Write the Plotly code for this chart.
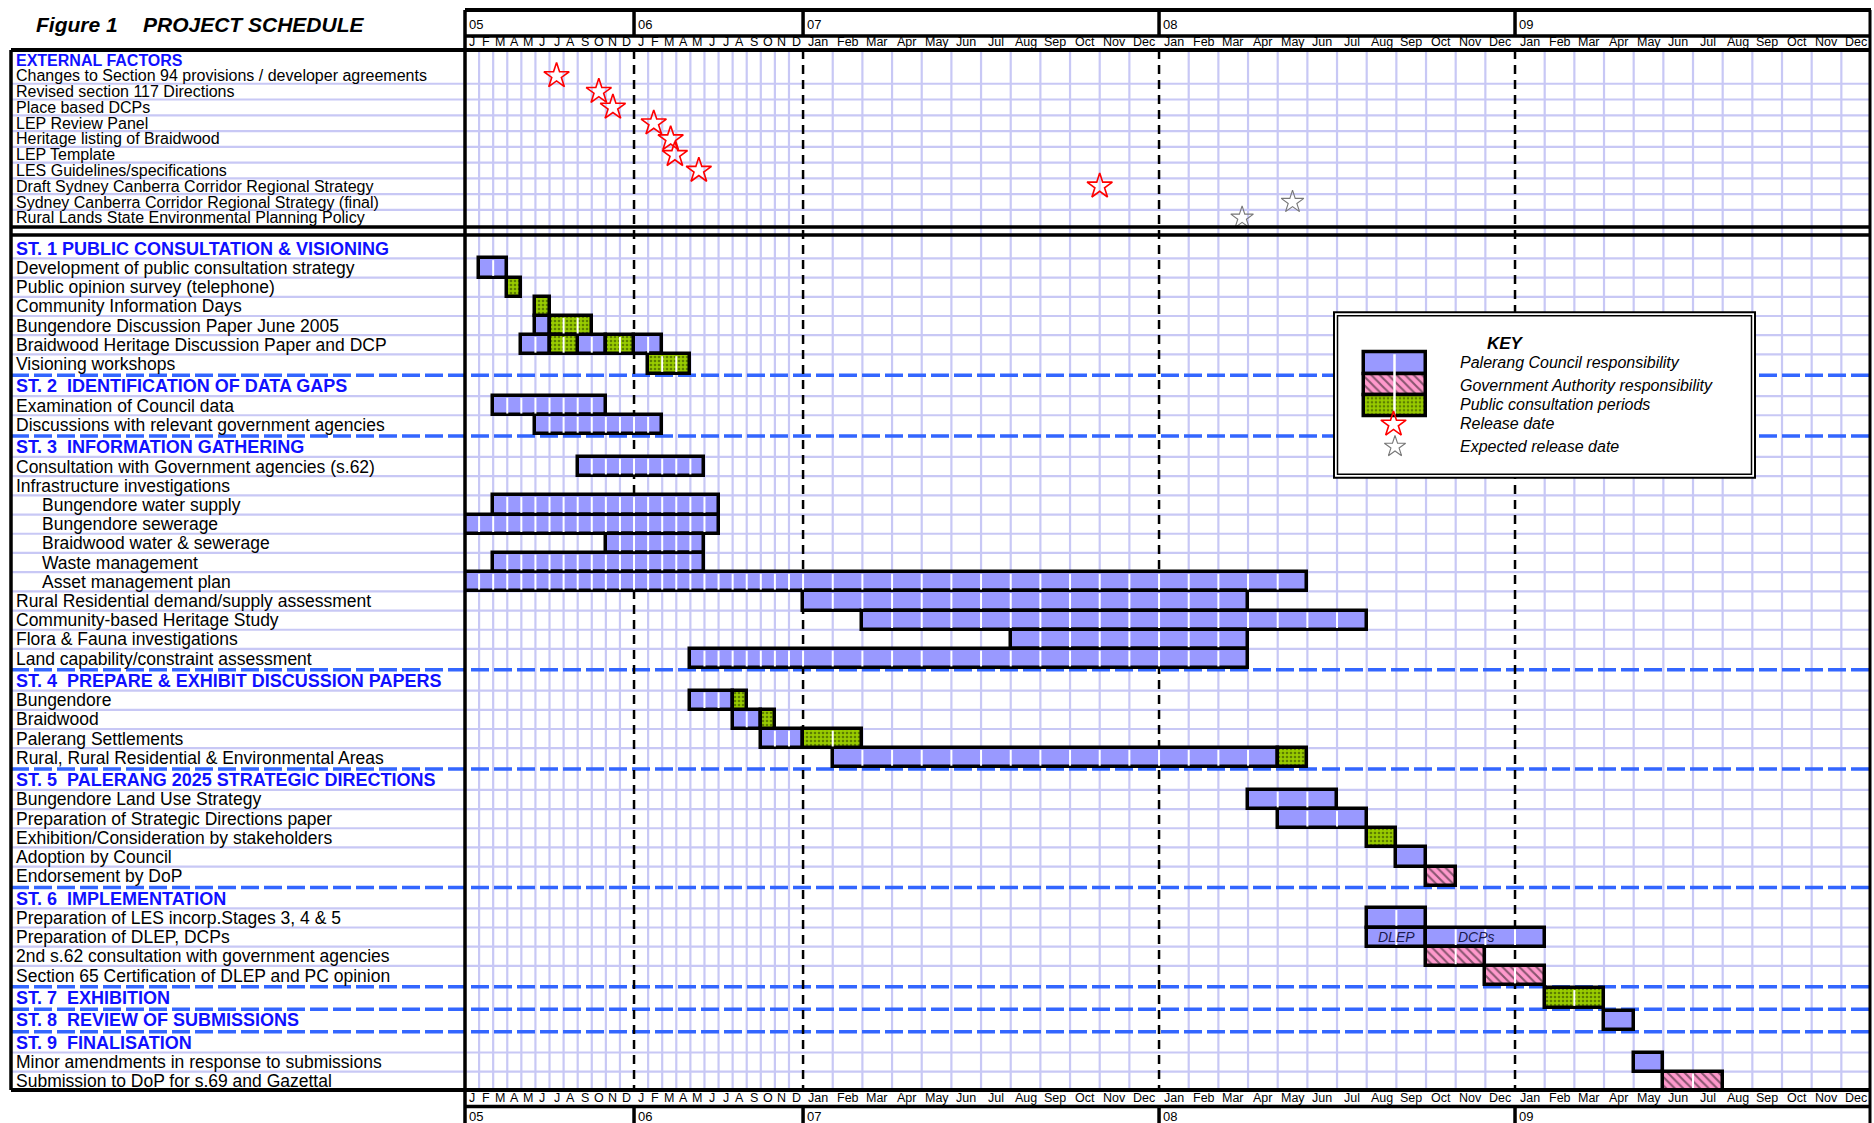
import plotly.graph_objects as go

W, H = 1874, 1123

# ---------------- data ----------------
year_labels = ["05", "06", "07", "08", "09"]
month_letters = ["J", "F", "M", "A", "M", "J", "J", "A", "S", "O", "N", "D"]
month_names = ["Jan", "Feb", "Mar", "Apr", "May", "Jun", "Jul", "Aug", "Sep", "Oct", "Nov", "Dec"]

ext_header = "EXTERNAL FACTORS"
ext_labels = [
    "Changes to Section 94 provisions / developer agreements",
    "Revised section 117 Directions",
    "Place based DCPs",
    "LEP Review Panel",
    "Heritage listing of Braidwood",
    "LEP Template",
    "LES Guidelines/specifications",
    "Draft Sydney Canberra Corridor Regional Strategy",
    "Sydney Canberra Corridor Regional Strategy (final)",
    "Rural Lands State Environmental Planning Policy",
]
# months counted from Jan 2005 (0); fractional = part way through a month
released_factors = ext_labels[:8]
released_month = [6.5, 9.5, 10.5, 13.4, 14.6, 14.9, 16.6, 34.0]
expected_factors = [ext_labels[8], ext_labels[9]]
expected_month = [40.5, 38.8]

main_labels = [
    "ST. 1 PUBLIC CONSULTATION & VISIONING",
    "Development of public consultation strategy",
    "Public opinion survey (telephone)",
    "Community Information Days",
    "Bungendore Discussion Paper June 2005",
    "Braidwood Heritage Discussion Paper and DCP",
    "Visioning workshops",
    "ST. 2  IDENTIFICATION OF DATA GAPS",
    "Examination of Council data",
    "Discussions with relevant government agencies",
    "ST. 3  INFORMATION GATHERING",
    "Consultation with Government agencies (s.62)",
    "Infrastructure investigations",
    "Bungendore water supply",
    "Bungendore sewerage",
    "Braidwood water & sewerage",
    "Waste management",
    "Asset management plan",
    "Rural Residential demand/supply assessment",
    "Community-based Heritage Study",
    "Flora & Fauna investigations",
    "Land capability/constraint assessment",
    "ST. 4  PREPARE & EXHIBIT DISCUSSION PAPERS",
    "Bungendore",
    "Braidwood",
    "Palerang Settlements",
    "Rural, Rural Residential & Environmental Areas",
    "ST. 5  PALERANG 2025 STRATEGIC DIRECTIONS",
    "Bungendore Land Use Strategy",
    "Preparation of Strategic Directions paper",
    "Exhibition/Consideration by stakeholders",
    "Adoption by Council",
    "Endorsement by DoP",
    "ST. 6  IMPLEMENTATION",
    "Preparation of LES incorp.Stages 3, 4 & 5",
    "Preparation of DLEP, DCPs",
    "2nd s.62 consultation with government agencies",
    "Section 65 Certification of DLEP and PC opinion",
    "ST. 7  EXHIBITION",
    "ST. 8  REVIEW OF SUBMISSIONS",
    "ST. 9  FINALISATION",
    "Minor amendments in response to submissions",
    "Submission to DoP for s.69 and Gazettal",
]
# 0 = stage heading, 1 = task, 2 = sub-task
main_levels = [0, 1, 1, 1, 1, 1, 1,
               0, 1, 1,
               0, 1, 1, 2, 2, 2, 2, 2, 1, 1, 1, 1,
               0, 1, 1, 1, 1,
               0, 1, 1, 1, 1, 1,
               0, 1, 1, 1, 1,
               0, 0,
               0, 1, 1]

# schedule segments: C = Palerang Council, G = Government Authority, P = public consultation
seg_task = [
    "Development of public consultation strategy",
    "Public opinion survey (telephone)",
    "Community Information Days",
    "Bungendore Discussion Paper June 2005", "Bungendore Discussion Paper June 2005",
    "Braidwood Heritage Discussion Paper and DCP", "Braidwood Heritage Discussion Paper and DCP",
    "Braidwood Heritage Discussion Paper and DCP", "Braidwood Heritage Discussion Paper and DCP",
    "Braidwood Heritage Discussion Paper and DCP",
    "Visioning workshops",
    "Examination of Council data",
    "Discussions with relevant government agencies",
    "Consultation with Government agencies (s.62)",
    "Bungendore water supply",
    "Bungendore sewerage",
    "Braidwood water & sewerage",
    "Waste management",
    "Asset management plan",
    "Rural Residential demand/supply assessment",
    "Community-based Heritage Study",
    "Flora & Fauna investigations",
    "Land capability/constraint assessment",
    "Bungendore", "Bungendore",
    "Braidwood", "Braidwood",
    "Palerang Settlements", "Palerang Settlements",
    "Rural, Rural Residential & Environmental Areas", "Rural, Rural Residential & Environmental Areas",
    "Bungendore Land Use Strategy",
    "Preparation of Strategic Directions paper",
    "Exhibition/Consideration by stakeholders",
    "Adoption by Council",
    "Endorsement by DoP",
    "Preparation of LES incorp.Stages 3, 4 & 5",
    "Preparation of DLEP, DCPs", "Preparation of DLEP, DCPs",
    "2nd s.62 consultation with government agencies",
    "Section 65 Certification of DLEP and PC opinion",
    "ST. 7  EXHIBITION",
    "ST. 8  REVIEW OF SUBMISSIONS",
    "Minor amendments in response to submissions",
    "Submission to DoP for s.69 and Gazettal",
]
seg_start = [1, 3, 5, 5, 6, 4, 6, 8, 10, 12, 13, 2, 5, 8, 2, 0, 10, 2, 0, 24, 26, 31, 16,
             16, 19, 19, 21, 21, 24, 25, 40, 39, 40, 43, 44, 45, 43, 43, 45, 45, 47, 49, 51, 52, 53]
seg_end = [3, 4, 6, 6, 9, 6, 8, 10, 12, 14, 16, 10, 14, 17, 18, 18, 17, 17, 41, 39, 43, 39, 39,
           19, 20, 21, 22, 24, 26, 40, 41, 42, 43, 44, 45, 46, 45, 45, 49, 47, 49, 51, 52, 53, 55]
seg_kind = ["C", "P", "P", "C", "P", "C", "P", "C", "P", "C", "P", "C", "C", "C", "C", "C", "C",
            "C", "C", "C", "C", "C", "C", "C", "P", "C", "P", "C", "P", "C", "P", "C", "C", "P",
            "C", "G", "C", "C", "C", "G", "G", "P", "C", "C", "G"]

bar_notes = ["DLEP", "DCPs"]
bar_note_task = ["Preparation of DLEP, DCPs", "Preparation of DLEP, DCPs"]
bar_note_month = [44.0, 46.7]

key_title = "KEY"
key_labels = ["Palerang Council responsibility", "Government Authority responsibility",
              "Public consultation periods", "Release date", "Expected release date"]

# ---------------- layout helpers ----------------
FONT = "Liberation Sans, Arial, sans-serif"
BLUE_FILL = "#9999ff"
PINK_FILL = "#ff99cc"
GREEN_FILL = "#99cc00"
GRID = "#c8c8f5"
SEP_BLUE = "#3366ff"
HEAD_BLUE = "#1010ff"

NARROW = 24          # 2005-2006 drawn at a compressed monthly scale
K = 2.106            # width of a 2007+ month relative to a 2005-06 month


def xpos(m):
    return m if m <= NARROW else NARROW + (m - NARROW) * K


X_END = xpos(60)


def px(v):
    return v / W


def py(v):
    return 1 - v / H


X0_PX, X1_PX, LEFT_PX, LBL_PX, SUB_PX = 465, 1871, 11, 14, 39.5
EXT_TOP, EXT_BOT, EXT_R0, EXT_P = 50, 227, 60.1, 15.77
MAIN_TOP, MAIN_BOT, MAIN_R0, MAIN_P = 235, 1090, 248.8, 19.2
G = 0.17  # extra space before each stage heading


def yv(r):
    return r + G * sum(1 for h in range(1, r + 1) if main_levels[h] == 0)


row_of = {lab: i for i, lab in enumerate(main_labels)}

fig = go.Figure()

# ---------------- bars ----------------
styles = {
    "C": dict(color=BLUE_FILL),
    "G": dict(color=PINK_FILL, pattern=dict(shape="\\", fgcolor="#111111", size=6,
                                            solidity=0.35, fillmode="overlay")),
    "P": dict(color=GREEN_FILL, pattern=dict(shape=".", fgcolor="#203000", size=4,
                                             solidity=0.35, fillmode="overlay")),
}
for kind in ["C", "G", "P"]:
    idx = [i for i, k in enumerate(seg_kind) if k == kind]
    fig.add_trace(go.Bar(
        orientation="h",
        y=[yv(row_of[seg_task[i]]) for i in idx],
        base=[xpos(seg_start[i]) for i in idx],
        x=[xpos(seg_end[i]) - xpos(seg_start[i]) for i in idx],
        width=[1.0] * len(idx),
        marker=dict(line=dict(color="black", width=3.5), **styles[kind]),
        xaxis="x", yaxis="y2", showlegend=False, hoverinfo="skip",
    ))

# white month dividers showing through the bars
wx, wy = [], []
for t, s, e in zip(seg_task, seg_start, seg_end):
    yc = yv(row_of[t])
    for m in range(s + 1, e):
        wx += [xpos(m), xpos(m), None]
        wy += [yc - 0.41, yc + 0.41, None]
fig.add_trace(go.Scatter(x=wx, y=wy, mode="lines", line=dict(color="white", width=2),
                         xaxis="x", yaxis="y2", showlegend=False, hoverinfo="skip"))

# stars
ext_row = {lab: i + 1 for i, lab in enumerate(ext_labels)}
fig.add_trace(go.Scatter(
    x=[xpos(m) for m in released_month], y=[ext_row[f] for f in released_factors],
    mode="markers", marker=dict(symbol="star-open", size=19, color="red", line=dict(width=1.6)),
    xaxis="x", yaxis="y", showlegend=False, hoverinfo="skip"))
fig.add_trace(go.Scatter(
    x=[xpos(m) for m in expected_month], y=[ext_row[f] for f in expected_factors],
    mode="markers", marker=dict(symbol="star-open", size=17, color="#777777", line=dict(width=1.1)),
    xaxis="x", yaxis="y", showlegend=False, hoverinfo="skip"))

# ---------------- key (drawn on its own pixel-scaled axes) ----------------
KEY_X0, KEY_X1, KEY_Y0, KEY_Y1 = 1334, 1755, 312.3, 477.7
sw_y = [363.3, 384.5, 405.6]
for kind, yc in zip(["C", "G", "P"], sw_y):
    fig.add_trace(go.Bar(orientation="h", y=[yc], base=[1364], x=[62], width=[21.2],
                         marker=dict(line=dict(color="black", width=3.5), **styles[kind]),
                         xaxis="x2", yaxis="y3", showlegend=False, hoverinfo="skip"))
fig.add_trace(go.Scatter(x=[1394.5, 1394.5], y=[sw_y[0] - 9, sw_y[2] + 9], mode="lines",
                         line=dict(color="white", width=2.5), xaxis="x2", yaxis="y3",
                         showlegend=False, hoverinfo="skip"))
fig.add_trace(go.Scatter(x=[1393.5], y=[424.3], mode="markers",
                         marker=dict(symbol="star-open", size=19, color="red", line=dict(width=1.6)),
                         xaxis="x2", yaxis="y3", showlegend=False, hoverinfo="skip"))
fig.add_trace(go.Scatter(x=[1395], y=[446.7], mode="markers",
                         marker=dict(symbol="star-open", size=16, color="#777777", line=dict(width=1.1)),
                         xaxis="x2", yaxis="y3", showlegend=False, hoverinfo="skip"))

# ---------------- shapes ----------------
shapes = []
# vertical month grid
for m in range(1, 60):
    if m % 12 == 0:
        continue
    shapes.append(dict(type="line", xref="x", yref="paper", x0=xpos(m), x1=xpos(m),
                       y0=py(EXT_TOP), y1=py(MAIN_BOT), line=dict(color=GRID, width=2.2), layer="below"))
# horizontal grid - external factors
for r in range(1, 10):
    shapes.append(dict(type="line", xref="paper", yref="y", x0=px(LEFT_PX), x1=px(X1_PX),
                       y0=r + 0.5, y1=r + 0.5, line=dict(color=GRID, width=2.2), layer="below"))
# horizontal grid & stage separators - main
for r in range(0, len(main_labels) - 1):
    if main_levels[r + 1] == 0:
        yy = yv(r) + 0.5 + G / 2
        shapes.append(dict(type="line", xref="paper", yref="y2", x0=px(LEFT_PX), x1=px(X1_PX),
                           y0=yy, y1=yy, line=dict(color=SEP_BLUE, width=3.5, dash="18px,5px"),
                           layer="below"))
    else:
        yy = yv(r) + 0.5
        shapes.append(dict(type="line", xref="paper", yref="y2", x0=px(LEFT_PX), x1=px(X1_PX),
                           y0=yy, y1=yy, line=dict(color=GRID, width=2.2), layer="below"))
# year dashed lines
for i in range(1, 5):
    shapes.append(dict(type="line", xref="x", yref="paper", x0=xpos(12 * i), x1=xpos(12 * i),
                       y0=py(EXT_TOP), y1=py(MAIN_BOT), line=dict(color="black", width=2.5, dash="9px,6px"),
                       layer="below"))
# key box background
shapes.append(dict(type="rect", xref="paper", yref="paper", x0=px(KEY_X0), x1=px(KEY_X1),
                   y0=py(KEY_Y1), y1=py(KEY_Y0), fillcolor="white", line=dict(width=0), layer="below"))


def hline(y, x0, x1, w=3.5):
    shapes.append(dict(type="line", xref="paper", yref="paper", x0=px(x0), x1=px(x1),
                       y0=py(y), y1=py(y), line=dict(color="black", width=w), layer="above"))


def vline(x, y0, y1, w=3.5):
    shapes.append(dict(type="line", xref="paper", yref="paper", x0=px(x), x1=px(x),
                       y0=py(y0), y1=py(y1), line=dict(color="black", width=w), layer="above"))


# frame
hline(10, X0_PX, X1_PX, 4)
hline(36, X0_PX, X1_PX, 3.5)
hline(EXT_TOP, LEFT_PX, X1_PX, 4)
hline(EXT_BOT, LEFT_PX, X1_PX, 3.5)
hline(MAIN_TOP, LEFT_PX, X1_PX, 3.5)
hline(MAIN_BOT, LEFT_PX, X1_PX, 4)
hline(1106.5, X0_PX, X1_PX, 3.5)
vline(LEFT_PX, EXT_TOP, MAIN_BOT)
vline(X0_PX, 10, H)
vline(X1_PX - 1, 10, H, 3)
for i in range(1, 5):
    shapes.append(dict(type="line", xref="x", yref="paper", x0=xpos(12 * i), x1=xpos(12 * i),
                       y0=py(10), y1=py(36), line=dict(color="black", width=3.5), layer="above"))
    shapes.append(dict(type="line", xref="x", yref="paper", x0=xpos(12 * i), x1=xpos(12 * i),
                       y0=py(1106.5), y1=py(H), line=dict(color="black", width=3.5), layer="above"))
# key borders
shapes.append(dict(type="rect", xref="paper", yref="paper", x0=px(KEY_X0), x1=px(KEY_X1),
                   y0=py(KEY_Y1), y1=py(KEY_Y0), line=dict(color="black", width=2), layer="above"))
shapes.append(dict(type="rect", xref="paper", yref="paper", x0=px(KEY_X0 + 3.5), x1=px(KEY_X1 - 3.5),
                   y0=py(KEY_Y1 - 3.5), y1=py(KEY_Y0 + 3.5), line=dict(color="black", width=1.5),
                   layer="above"))

# ---------------- annotations ----------------
ann = []
ann.append(dict(text="<b><i>Figure 1</i></b>", x=px(34), y=py(24), xref="paper", yref="paper",
                xanchor="left", yanchor="middle", showarrow=False, font=dict(size=21, color="black")))
ann.append(dict(text="<b><i>PROJECT SCHEDULE</i></b>", x=px(141), y=py(24), xref="paper", yref="paper",
                xanchor="left", yanchor="middle", showarrow=False, font=dict(size=21, color="black")))

for i, yl in enumerate(year_labels):
    for ypix in (25, 1116):
        ann.append(dict(text=yl, x=xpos(12 * i), y=py(ypix), xref="x", yref="paper", xanchor="left",
                        yanchor="middle", xshift=2, showarrow=False, font=dict(size=13, color="black")))
for m in range(60):
    lab = month_letters[m % 12] if m < NARROW else month_names[m % 12]
    for ypix in (42.5, 1097.5):
        ann.append(dict(text=lab, x=xpos(m + 0.5), y=py(ypix), xref="x", yref="paper", xanchor="center",
                        yanchor="middle", showarrow=False, font=dict(size=12.5, color="black")))

ann.append(dict(text="<b>" + ext_header + "</b>", x=px(LBL_PX), y=0, xref="paper", yref="y",
                xanchor="left", yanchor="middle", showarrow=False, font=dict(size=16, color=HEAD_BLUE)))
for i, lab in enumerate(ext_labels):
    ann.append(dict(text=lab, x=px(LBL_PX), y=i + 1, xref="paper", yref="y", xanchor="left",
                    yanchor="middle", showarrow=False, font=dict(size=16, color="black")))

for r, (lab, lev) in enumerate(zip(main_labels, main_levels)):
    if lev == 0:
        txt, fnt, xx = "<b>" + lab + "</b>", dict(size=18, color=HEAD_BLUE), LBL_PX
    else:
        txt, fnt, xx = lab, dict(size=17.5, color="black"), (SUB_PX if lev == 2 else LBL_PX)
    ann.append(dict(text=txt, x=px(xx), y=yv(r), xref="paper", yref="y2", xanchor="left",
                    yanchor="middle", showarrow=False, font=fnt))

for note, task, m in zip(bar_notes, bar_note_task, bar_note_month):
    ann.append(dict(text="<i>" + note + "</i>", x=xpos(m), y=yv(row_of[task]), xref="x", yref="y2",
                    xanchor="center", yanchor="middle", showarrow=False,
                    font=dict(size=14, color="#1a1a50")))

ann.append(dict(text="<b><i>" + key_title + "</i></b>", x=px(1505), y=py(343.5), xref="paper",
                yref="paper", xanchor="center", yanchor="middle", showarrow=False,
                font=dict(size=17, color="black")))
for lab, ypix in zip(key_labels, [362.3, 385, 404.3, 423.3, 446.7]):
    ann.append(dict(text="<i>" + lab + "</i>", x=px(1458), y=py(ypix), xref="paper", yref="paper",
                    xanchor="left", yanchor="middle", showarrow=False, font=dict(size=16, color="black")))

hidden = dict(visible=False, showgrid=False, zeroline=False, fixedrange=True)
fig.update_layout(
    width=W, height=H, margin=dict(l=0, r=0, t=0, b=0),
    paper_bgcolor="white", plot_bgcolor="rgba(0,0,0,0)",
    font=dict(family=FONT, color="black"),
    barmode="overlay", bargap=0,
    xaxis=dict(domain=[px(X0_PX), px(X1_PX)], range=[0, X_END], anchor="y2", **hidden),
    yaxis=dict(domain=[py(EXT_BOT), py(EXT_TOP)],
               range=[(EXT_BOT - EXT_R0) / EXT_P, (EXT_TOP - EXT_R0) / EXT_P], anchor="x", **hidden),
    yaxis2=dict(domain=[py(MAIN_BOT), py(MAIN_TOP)],
                range=[(MAIN_BOT - MAIN_R0) / MAIN_P, (MAIN_TOP - MAIN_R0) / MAIN_P], anchor="x", **hidden),
    xaxis2=dict(domain=[px(KEY_X0), px(KEY_X1)], range=[KEY_X0, KEY_X1], anchor="y3", **hidden),
    yaxis3=dict(domain=[py(KEY_Y1), py(KEY_Y0)], range=[KEY_Y1, KEY_Y0], anchor="x2", **hidden),
    shapes=shapes, annotations=ann, showlegend=False,
)
fig.write_html("out.html")
